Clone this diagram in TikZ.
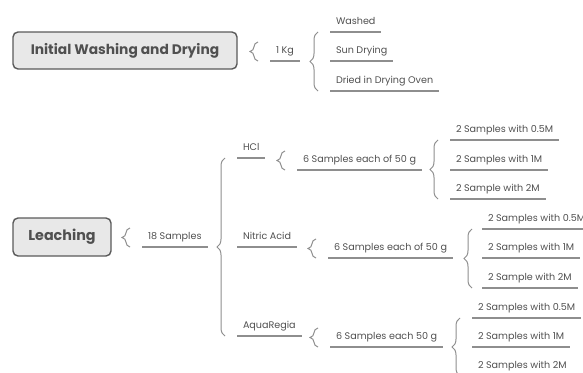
\documentclass[tikz,border=0pt]{standalone}
\usepackage{fontspec}
\setmainfont{Poppins}
\usetikzlibrary{decorations.pathreplacing}
\definecolor{linegray}{HTML}{8E8E8E}
\definecolor{txtgray}{HTML}{505050}
\definecolor{boxfill}{HTML}{E8E8E8}
\definecolor{boxline}{HTML}{5A5A5A}
\tikzset{
brc/.style = {decorate, decoration={brace, amplitude=#1},
              draw=linegray, line width=1pt},
brc/.default = 8pt % depth of the brace tip
}

\begin{document}
\begin{tikzpicture}[x=1pt,y=-1pt,
R/.style={rounded corners=5pt, draw=boxline, fill=boxfill, line width=1.4pt, text=txtgray, inner sep=0pt},
U/.style={anchor=south west, text=txtgray, font=\fontsize{9.6}{11}\selectfont, inner xsep=6pt, inner ysep=6pt, text height=7pt, text depth=2pt, outer sep=0pt},
ul/.style={draw=linegray, line width=1.3pt}]
%
\useasboundingbox (0,0) rectangle (583,372);
\clip (0,0) rectangle (583,372);
%\draw[help lines, color=gray!30, dashed] (0,0) grid[step=50] (583,372);

% main topics
\node[R, minimum width=224, minimum height=37, font=\bfseries\fontsize{13.8}{16}\selectfont] at (125,50.5) (init) {Initial Washing and Drying};
\node[R, minimum width=98, minimum height=38, font=\bfseries\fontsize{14.3}{16}\selectfont] at (62,237) (leach) {Leaching};

% washing and drying
\node[U] at (270,61) (kg) {1 Kg};
\node[U] at (330,32) (washed) {Washed};
\node[U] at (330,61) (sun) {Sun Drying};
\node[U] at (330,91) (oven) {Dried in Drying Oven};

% leaching
\node[U] at (142,247) (eighteen) {18 Samples};
\node[U] at (237,158) (hcl) {HCl};
\node[U] at (237,247) (nitric) {Nitric Acid};
\node[U] at (237,336) (aqua) {AquaRegia};

\node[U] at (297,170) (hclsix) {6 Samples each of 50 g};
\node[U] at (450,140) (hclA) {2 Samples with 0.5M};
\node[U] at (450,170) (hclB) {2 Samples with 1M};
\node[U] at (450,199) (hclC) {2 Sample with 2M};

\node[U] at (328,258) (nitsix) {6 Samples each of 50 g};
\node[U] at (482,229) (nitA) {2 Samples with 0.5M};
\node[U] at (482,258) (nitB) {2 Samples with 1M};
\node[U] at (482,288) (nitC) {2 Sample with 2M};

\node[U] at (330,347) (aqsix) {6 Samples each 50 g};
\node[U] at (472,318) (aqA) {2 Samples with 0.5M};
\node[U] at (472,347) (aqB) {2 Samples with 1M};
\node[U] at (472,376) (aqC) {2 Samples with 2M};

\foreach \n in {kg,washed,sun,oven,eighteen,hcl,nitric,aqua,hclsix,hclA,hclB,hclC,nitsix,nitA,nitB,nitC,aqsix,aqA,aqB,aqC}
  \draw[ul] (\n.south west) -- (\n.south east);

% braces to one child
\foreach \n in {kg,eighteen,hclsix,nitsix,aqsix}
  \draw[brc] ([xshift=-12]\n.south west) -- ([xshift=-12,yshift=-2]\n.north west);

% braces to several children
\draw[brc] ([xshift=-12]oven.south west) -- ([xshift=-12]washed.south west);
\draw[brc] ([xshift=-12]aqua.south west) -- ([xshift=-12]hcl.south west);
\draw[brc] ([xshift=-12]hclC.south west) -- ([xshift=-12]hclA.south west);
\draw[brc] ([xshift=-10]nitC.south west) -- ([xshift=-10]nitA.south west);
\draw[brc] ([xshift=-12]aqC.south west) -- ([xshift=-12]aqA.south west);

\end{tikzpicture}
\end{document}
